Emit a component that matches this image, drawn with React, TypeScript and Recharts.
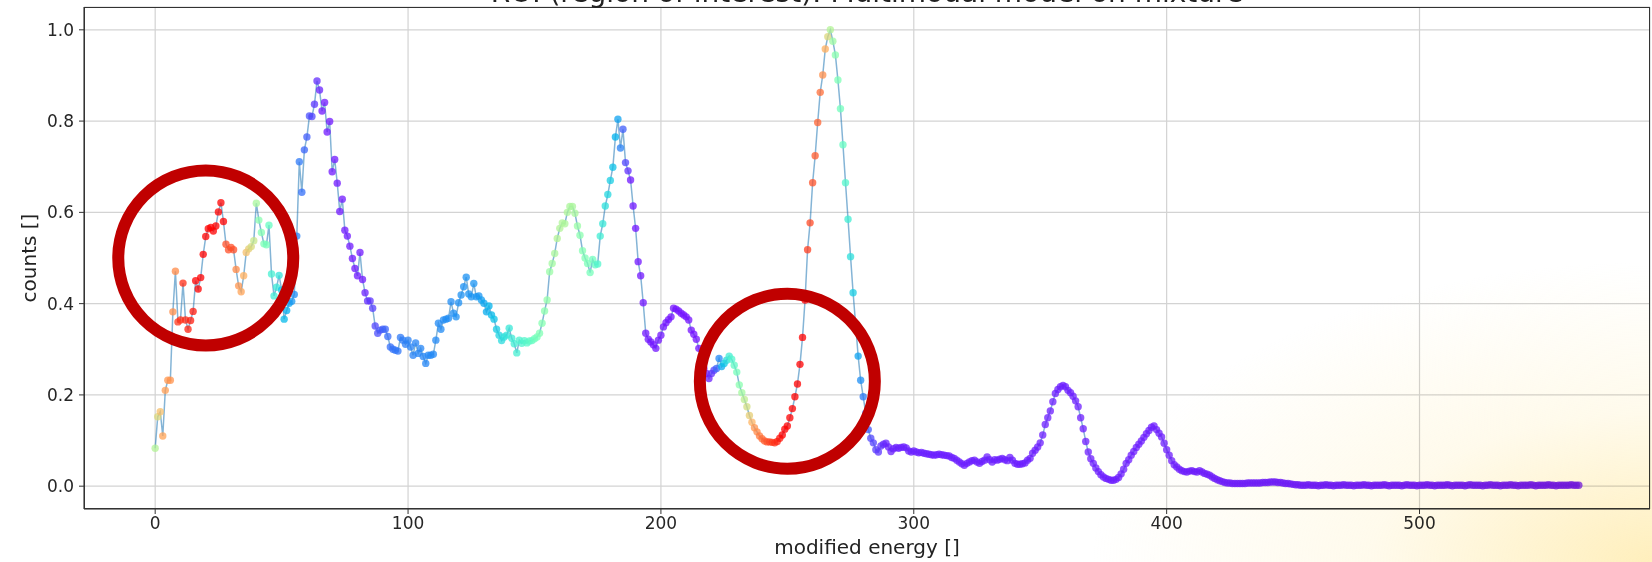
import { LineChart, Line, XAxis, YAxis, CartesianGrid, ReferenceDot } from "recharts";

// normalised counts, one value per energy bin (0..563)
const COUNTS = [
  0.083, 0.152, 0.163, 0.110, 0.210, 0.232, 0.232, 0.382, 0.471, 0.360,
  0.364, 0.445, 0.364, 0.344, 0.363, 0.383, 0.450, 0.432, 0.457, 0.508,
  0.547, 0.564, 0.567, 0.559, 0.570, 0.601, 0.621, 0.580, 0.530, 0.518,
  0.523, 0.518, 0.475, 0.439, 0.426, 0.461, 0.512, 0.520, 0.525, 0.538,
  0.620, 0.583, 0.556, 0.531, 0.529, 0.572, 0.465, 0.417, 0.436, 0.462,
  0.430, 0.366, 0.385, 0.401, 0.405, 0.420, 0.548, 0.711, 0.644, 0.737,
  0.765, 0.811, 0.810, 0.837, 0.888, 0.868, 0.822, 0.841, 0.776, 0.799,
  0.689, 0.716, 0.664, 0.602, 0.629, 0.561, 0.548, 0.526, 0.499, 0.477,
  0.461, 0.512, 0.453, 0.424, 0.406, 0.406, 0.390, 0.351, 0.335, 0.342,
  0.344, 0.344, 0.328, 0.305, 0.300, 0.298, 0.296, 0.326, 0.320, 0.311,
  0.320, 0.305, 0.287, 0.314, 0.291, 0.302, 0.284, 0.269, 0.287, 0.287,
  0.289, 0.320, 0.357, 0.344, 0.364, 0.366, 0.368, 0.404, 0.379, 0.371,
  0.402, 0.419, 0.437, 0.458, 0.421, 0.415, 0.444, 0.415, 0.417, 0.408,
  0.401, 0.382, 0.395, 0.375, 0.366, 0.344, 0.331, 0.319, 0.327, 0.331,
  0.346, 0.324, 0.312, 0.292, 0.320, 0.313, 0.319, 0.314, 0.318, 0.319,
  0.323, 0.327, 0.335, 0.357, 0.384, 0.408, 0.470, 0.488, 0.510, 0.543,
  0.565, 0.577, 0.575, 0.600, 0.613, 0.613, 0.598, 0.570, 0.550, 0.516,
  0.500, 0.488, 0.468, 0.497, 0.485, 0.487, 0.548, 0.575, 0.614, 0.639,
  0.670, 0.699, 0.765, 0.804, 0.741, 0.782, 0.709, 0.691, 0.671, 0.614,
  0.565, 0.492, 0.461, 0.402, 0.335, 0.322, 0.316, 0.310, 0.302, 0.320,
  0.331, 0.349, 0.358, 0.365, 0.371, 0.390, 0.388, 0.384, 0.379, 0.375,
  0.371, 0.364, 0.342, 0.333, 0.322, 0.302, 0.269, 0.258, 0.247, 0.236,
  0.247, 0.254, 0.258, 0.280, 0.262, 0.269, 0.276, 0.285, 0.278, 0.265,
  0.250, 0.222, 0.205, 0.190, 0.174, 0.155, 0.140, 0.128, 0.119, 0.110,
  0.104, 0.099, 0.097, 0.097, 0.096, 0.095, 0.098, 0.105, 0.112, 0.125,
  0.132, 0.150, 0.170, 0.196, 0.224, 0.267, 0.326, 0.408, 0.518, 0.577,
  0.665, 0.724, 0.797, 0.863, 0.901, 0.958, 0.985, 1.000, 0.975, 0.945,
  0.890, 0.827, 0.748, 0.665, 0.585, 0.503, 0.424, 0.355, 0.285, 0.232,
  0.196, 0.160, 0.124, 0.105, 0.095, 0.080, 0.075, 0.088, 0.092, 0.094,
  0.086, 0.076, 0.082, 0.085, 0.083, 0.085, 0.086, 0.084, 0.077, 0.075,
  0.077, 0.075, 0.073, 0.074, 0.072, 0.071, 0.070, 0.069, 0.068, 0.069,
  0.070, 0.069, 0.068, 0.067, 0.066, 0.063, 0.061, 0.057, 0.053, 0.049,
  0.046, 0.050, 0.053, 0.056, 0.057, 0.053, 0.050, 0.054, 0.057, 0.064,
  0.058, 0.053, 0.058, 0.057, 0.059, 0.061, 0.058, 0.056, 0.063, 0.057,
  0.050, 0.048, 0.048, 0.049, 0.051, 0.057, 0.061, 0.072, 0.079, 0.086,
  0.095, 0.112, 0.135, 0.150, 0.165, 0.185, 0.203, 0.212, 0.218, 0.221,
  0.218, 0.210, 0.205, 0.197, 0.187, 0.174, 0.150, 0.126, 0.098, 0.075,
  0.060, 0.050, 0.040, 0.032, 0.025, 0.020, 0.017, 0.015, 0.013, 0.013,
  0.015, 0.019, 0.027, 0.037, 0.050, 0.058, 0.068, 0.076, 0.085, 0.092,
  0.099, 0.107, 0.115, 0.122, 0.129, 0.132, 0.124, 0.116, 0.108, 0.094,
  0.080, 0.068, 0.056, 0.047, 0.042, 0.037, 0.034, 0.032, 0.031, 0.033,
  0.034, 0.032, 0.031, 0.034, 0.031, 0.028, 0.026, 0.024, 0.020, 0.017,
  0.014, 0.012, 0.010, 0.008, 0.007, 0.007, 0.006, 0.006, 0.006, 0.006,
  0.006, 0.006, 0.007, 0.007, 0.007, 0.007, 0.007, 0.007, 0.008, 0.008,
  0.008, 0.009, 0.009, 0.009, 0.008, 0.008, 0.007, 0.006, 0.006, 0.005,
  0.004, 0.003, 0.003, 0.002, 0.002, 0.002, 0.003, 0.002, 0.002, 0.002,
  0.001, 0.002, 0.002, 0.003, 0.002, 0.002, 0.001, 0.002, 0.002, 0.002,
  0.003, 0.002, 0.002, 0.002, 0.001, 0.002, 0.002, 0.002, 0.003, 0.002,
  0.002, 0.001, 0.002, 0.002, 0.002, 0.002, 0.003, 0.002, 0.001, 0.002,
  0.002, 0.002, 0.002, 0.001, 0.002, 0.003, 0.002, 0.002, 0.002, 0.001,
  0.002, 0.002, 0.002, 0.003, 0.002, 0.002, 0.001, 0.002, 0.002, 0.002,
  0.002, 0.003, 0.002, 0.001, 0.002, 0.002, 0.002, 0.002, 0.001, 0.002,
  0.003, 0.002, 0.002, 0.002, 0.002, 0.001, 0.002, 0.002, 0.003, 0.002,
  0.002, 0.002, 0.001, 0.002, 0.002, 0.002, 0.003, 0.002, 0.002, 0.001,
  0.002, 0.002, 0.002, 0.002, 0.003, 0.002, 0.001, 0.002, 0.002, 0.002,
  0.002, 0.003, 0.002, 0.002, 0.001, 0.002, 0.002, 0.002, 0.002, 0.002,
  0.003, 0.002, 0.002, 0.002,
];

// modality weight per bin (0 = purple .. 1 = red), keyed [bin, weight]
const WEIGHT_KEYS: [number, number][] = [
  [0, 0.6], [1, 0.68], [3, 0.78], [8, 0.82], [9, 0.93], [15, 0.97], [16, 1.0],
  [27, 1.0], [28, 0.9], [31, 0.9], [32, 0.82], [35, 0.76], [37, 0.7], [39, 0.64],
  [40, 0.58], [41, 0.52], [44, 0.48], [45, 0.45], [46, 0.39], [49, 0.35],
  [50, 0.28], [53, 0.22], [56, 0.17], [60, 0.12], [63, 0.07], [66, 0.03],
  [82, 0.03], [86, 0.08], [92, 0.14], [100, 0.17], [128, 0.2], [133, 0.26],
  [137, 0.33], [142, 0.38], [148, 0.43], [152, 0.5], [156, 0.55], [159, 0.6],
  [166, 0.58], [168, 0.52], [173, 0.47], [176, 0.38], [180, 0.3], [183, 0.22],
  [185, 0.12], [188, 0.03], [218, 0.02], [221, 0.08], [223, 0.18], [225, 0.28],
  [227, 0.38], [229, 0.44], [231, 0.52], [233, 0.62], [235, 0.7], [237, 0.8],
  [241, 0.88], [246, 0.95], [248, 1.0], [257, 1.0], [258, 0.92], [263, 0.86],
  [265, 0.76], [267, 0.6], [269, 0.52], [272, 0.45], [274, 0.38], [276, 0.3],
  [278, 0.22], [280, 0.16], [283, 0.09], [290, 0.04], [563, 0.03],
];

const X_TICKS = [0, 100, 200, 300, 400, 500];
const Y_TICKS = [0, 0.2, 0.4, 0.6, 0.8, 1.0];

// highlighted regions [energy, counts]
const MARKED: [number, number][] = [
  [20, 0.5],
  [250, 0.23],
];

const FONT = "'DejaVu Sans', sans-serif";

function weightAt(i: number) {
  for (let k = 1; k < WEIGHT_KEYS.length; k++) {
    const [x1, w1] = WEIGHT_KEYS[k];
    if (i <= x1) {
      const [x0, w0] = WEIGHT_KEYS[k - 1];
      return w0 + ((w1 - w0) * (i - x0)) / (x1 - x0 || 1);
    }
  }
  return WEIGHT_KEYS[WEIGHT_KEYS.length - 1][1];
}

// matplotlib "rainbow" colormap
function rainbow(v: number) {
  const r = Math.min(1, Math.abs(2 * v - 0.5));
  const g = Math.sin(Math.PI * v);
  const b = Math.cos((Math.PI / 2) * v);
  const h = (c: number) => Math.round(Math.max(0, Math.min(1, c)) * 255);
  return `rgb(${h(r)},${h(g)},${h(b)})`;
}

const data = COUNTS.map((y, i) => ({ x: i, y }));
const colors = COUNTS.map((_, i) => rainbow(weightAt(i)));

const renderDot = (props: any) => {
  const { cx, cy, index } = props;
  if (cx == null || cy == null) return <g key={`d${index}`} />;
  return (
    <circle key={`d${index}`} cx={cx} cy={cy} r={3.7} fill={colors[index]} fillOpacity={0.75} />
  );
};

const tickStyle = { fill: "#262626", fontSize: 17, fontFamily: FONT };

export default function App() {
  return (
    <div style={{ position: "absolute", left: 0, top: 0, width: 1652, height: 562, background: "#fff", overflow: "hidden" }}>
      <LineChart width={1652} height={562} data={data} margin={{ top: 7, right: 2, bottom: 0, left: 0 }}>
        <CartesianGrid stroke="#d3d3d3" strokeWidth={1.2} />
        <XAxis
          type="number"
          dataKey="x"
          domain={[-28.15, 591.15]}
          ticks={X_TICKS}
          allowDataOverflow
          height={53}
          tickSize={5}
          tickMargin={3}
          tick={tickStyle}
          stroke="#333"
        />
        <YAxis
          type="number"
          domain={[-0.05, 1.05]}
          ticks={Y_TICKS}
          allowDataOverflow
          width={84}
          tickSize={5}
          tickMargin={5}
          tick={tickStyle}
          tickFormatter={(v: number) => v.toFixed(1)}
          stroke="#333"
        />
        <Line dataKey="y" stroke="none" dot={renderDot} activeDot={false} isAnimationActive={false} />
        <Line dataKey="y" stroke="#1f77b4" strokeOpacity={0.55} strokeWidth={1.5} dot={false} activeDot={false} isAnimationActive={false} />
        {MARKED.map(([x, y]) => (
          <ReferenceDot key={x} x={x} y={y} r={87.5} fill="none" stroke="#c00000" strokeWidth={12} />
        ))}
      </LineChart>

      {/* axes frame */}
      <div style={{ position: "absolute", left: 84, top: 7, width: 1566, height: 502, border: "1px solid #333", boxSizing: "border-box", pointerEvents: "none" }} />

      <svg width={1652} height={562} style={{ position: "absolute", left: 0, top: 0, pointerEvents: "none" }}>
        <text x={867} y={2} textAnchor="middle" fontSize={28} fontFamily={FONT} fill="#222">
          ROI (region of interest): Multimodal model on mixture
        </text>
        <text x={867} y={554} textAnchor="middle" fontSize={20} fontFamily={FONT} fill="#222">
          modified energy []
        </text>
        <text x={36} y={258} textAnchor="middle" fontSize={20} fontFamily={FONT} fill="#222" transform="rotate(-90 36 258)">
          counts []
        </text>
      </svg>

      {/* warm haze in the lower right corner */}
      <div
        style={{
          position: "absolute",
          left: 0,
          top: 0,
          width: 1652,
          height: 562,
          pointerEvents: "none",
          mixBlendMode: "multiply",
          background:
            "radial-gradient(ellipse 560px 300px at 1652px 562px, rgba(255,232,160,0.7), rgba(255,242,200,0.35) 50%, rgba(255,255,255,0) 100%)",
        }}
      />
    </div>
  );
}
